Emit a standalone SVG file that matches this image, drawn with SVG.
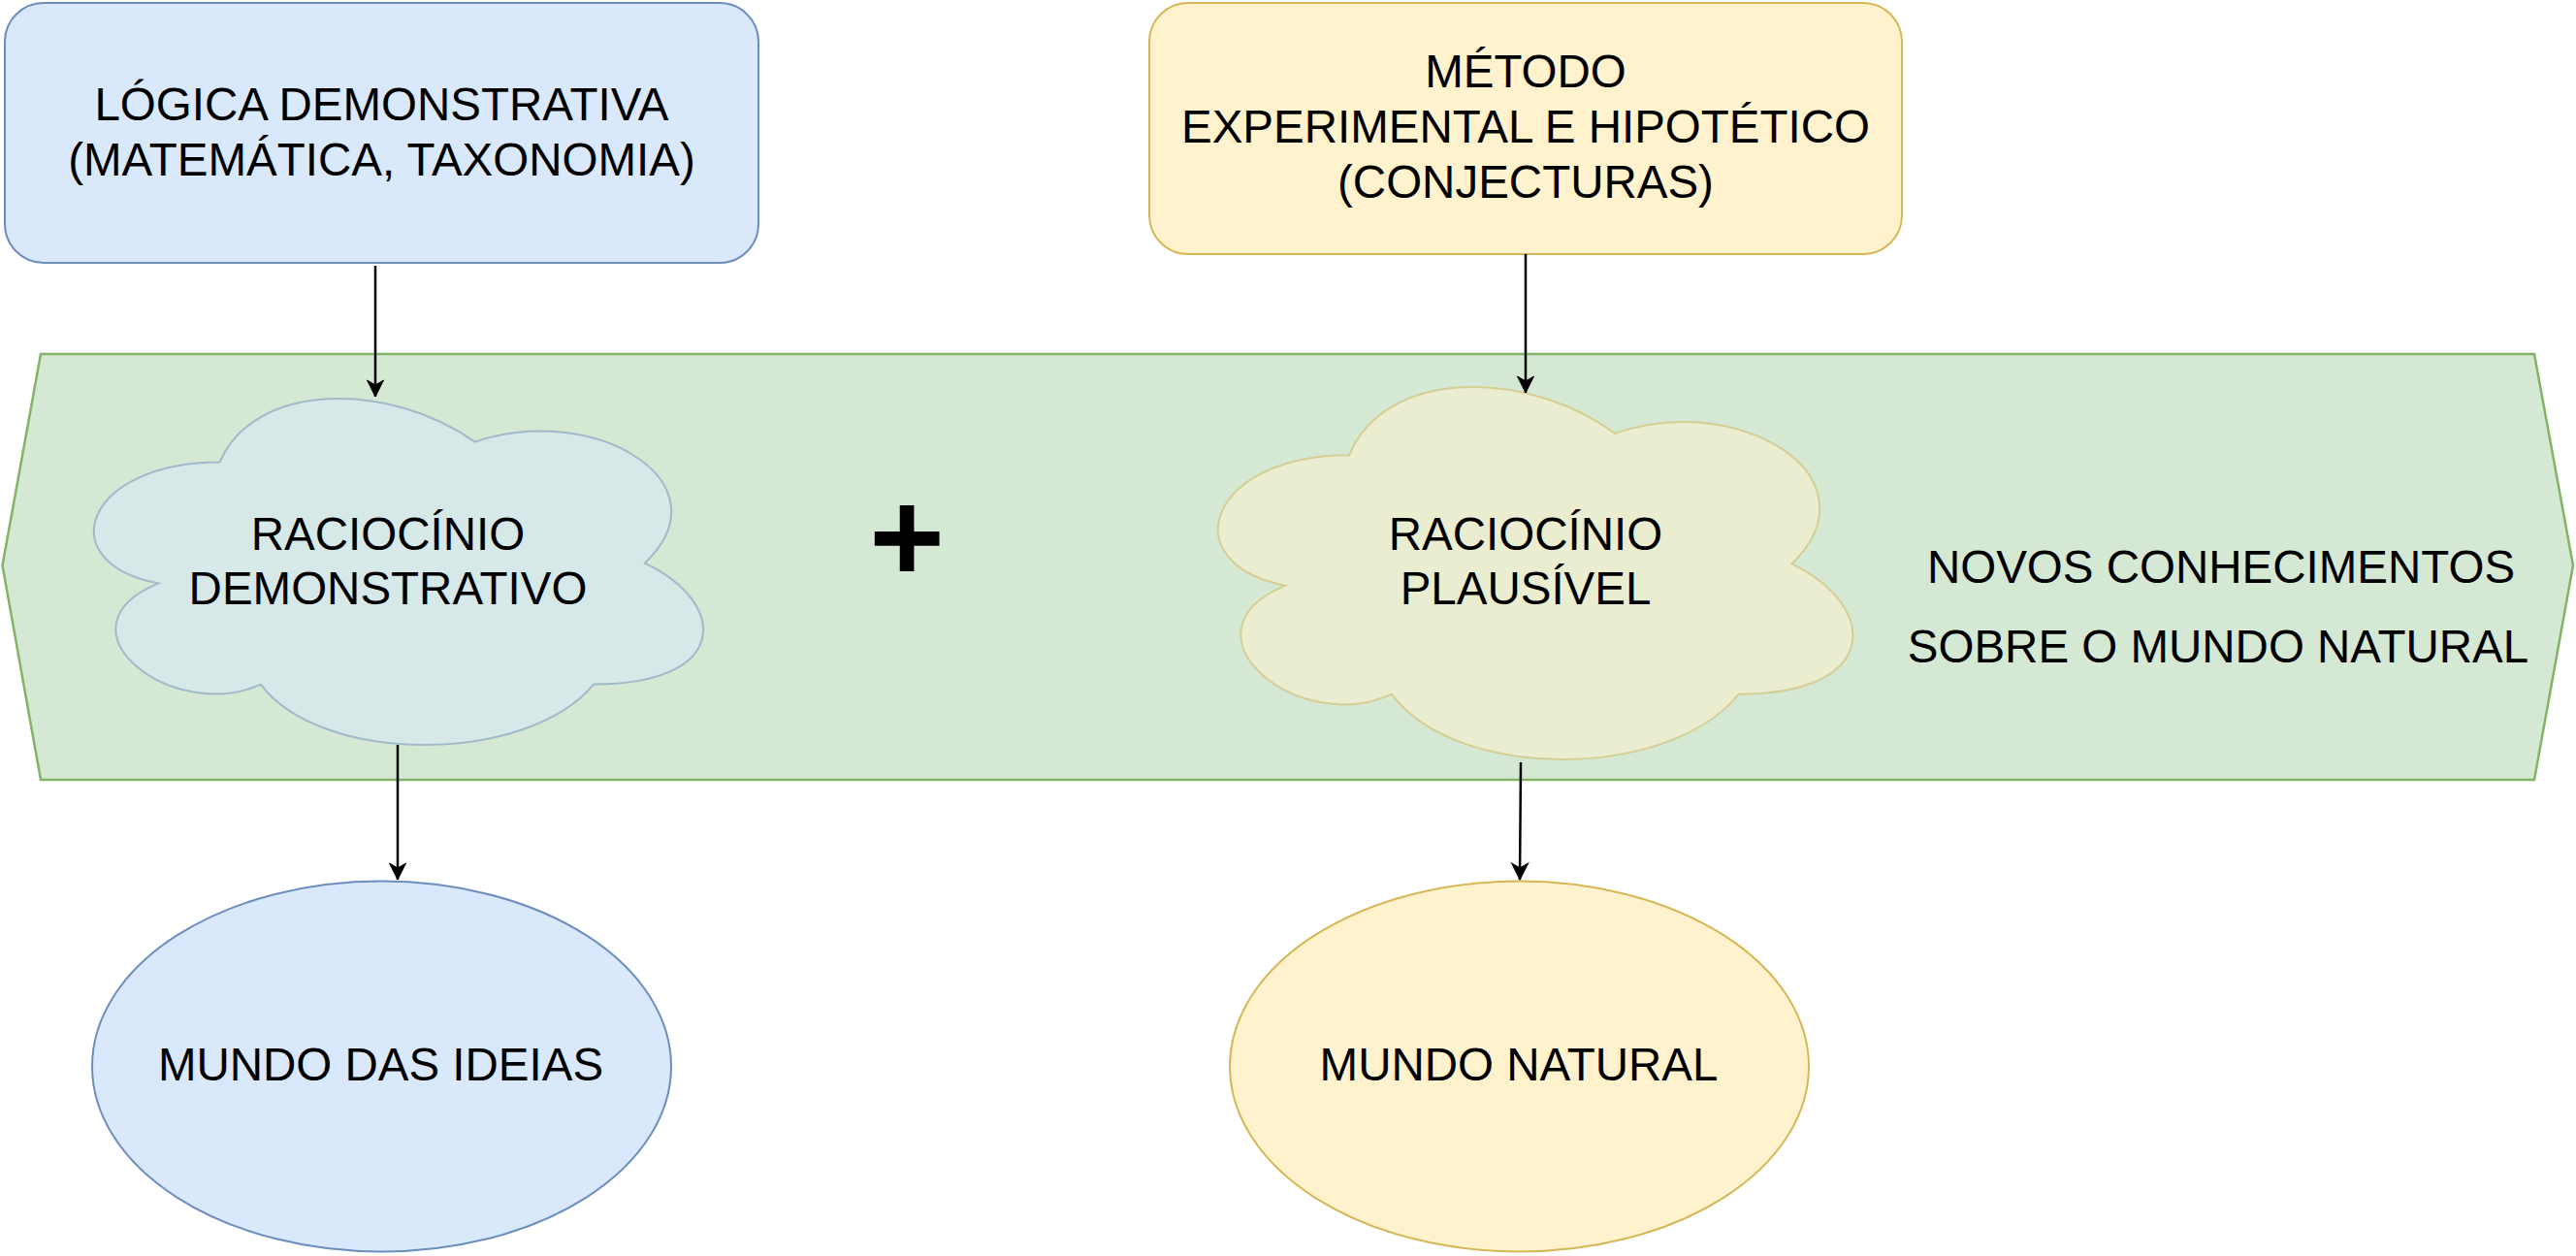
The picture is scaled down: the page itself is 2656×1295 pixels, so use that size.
<svg xmlns="http://www.w3.org/2000/svg" width="2656" height="1295" viewBox="0 0 2656 1295">
<defs>
<style>
text{font-family:"Liberation Sans",Arial,sans-serif;font-size:47.5px;fill:#000;text-anchor:middle}
.blue{fill:#dae8fc;stroke:#6c8ebf;stroke-width:2}
.yellow{fill:#fff2cc;stroke:#d6b656;stroke-width:2}
.green{fill:#d5e8d4;stroke:#82b366;stroke-width:2.5}
.conn{fill:none;stroke:#000;stroke-width:2.5}
.plus{font-weight:bold;font-size:133px}
</style>
<marker id="arr" markerUnits="userSpaceOnUse" markerWidth="40" markerHeight="40" refX="0" refY="0" orient="auto" overflow="visible">
<path d="M0,0 L-17,-8.5 L-12,0 L-17,8.5 Z" fill="#000" stroke="#000" stroke-width="1" stroke-linejoin="miter"/>
</marker>
</defs>
<rect width="2656" height="1295" fill="#fff"/>
<g id="band">
<polygon class="green" points="42,365 2613,365 2653,583 2613,804 42,804 2.5,583"/>
<text x="2290" y="601">NOVOS CONHECIMENTOS</text>
<text x="2287" y="683">SOBRE O MUNDO NATURAL</text>
</g>
<g id="logica">
<rect class="blue" x="5" y="3" width="777" height="268" rx="40" ry="40"/>
<text x="393.5" y="124">LÓGICA DEMONSTRATIVA</text>
<text x="393.5" y="181">(MATEMÁTICA, TAXONOMIA)</text>
</g>
<g id="metodo">
<rect class="yellow" x="1185" y="3" width="776" height="259" rx="40" ry="40"/>
<text x="1573" y="90">MÉTODO</text>
<text x="1573" y="147">EXPERIMENTAL E HIPOTÉTICO</text>
<text x="1573" y="204">(CONJECTURAS)</text>
</g>
<g id="raciocinio-demonstrativo">
<path class="blue" opacity="0.5" d="M226.65,476.45 C86.45,476.45 51.4,580.6 163.56,601.43 C51.4,647.26 177.58,747.24 268.71,705.58 C331.8,788.9 542.1,788.9 612.2,705.58 C752.4,705.58 752.4,622.26 664.78,580.6 C752.4,497.28 612.2,413.96 489.53,455.62 C401.9,393.13 261.7,393.13 226.65,476.45 Z"/>
<text x="400" y="567">RACIOCÍNIO</text>
<text x="400" y="623">DEMONSTRATIVO</text>
</g>
<g id="raciocinio-plausivel">
<path class="yellow" opacity="0.5" d="M1391.1,469.3 C1245.02,469.3 1208.5,581.3 1325.36,603.7 C1208.5,652.98 1339.97,760.5 1434.92,715.7 C1500.66,805.3 1719.78,805.3 1792.82,715.7 C1938.9,715.7 1938.9,626.1 1847.6,581.3 C1938.9,491.7 1792.82,402.1 1665,446.9 C1573.7,379.7 1427.62,379.7 1391.1,469.3 Z"/>
<text x="1573" y="567">RACIOCÍNIO</text>
<text x="1573" y="623">PLAUSÍVEL</text>
</g>
<g id="plus">
<text class="plus" x="935" y="600">+</text>
</g>
<g id="mundo-ideias">
<ellipse class="blue" cx="393.5" cy="1099.5" rx="298.5" ry="191"/>
<text x="392.5" y="1114">MUNDO DAS IDEIAS</text>
</g>
<g id="mundo-natural">
<ellipse class="yellow" cx="1566.5" cy="1099.5" rx="298.5" ry="191"/>
<text x="1566" y="1114">MUNDO NATURAL</text>
</g>
<g id="connectors">
<path class="conn" d="M387,274 L387,409" marker-end="url(#arr)"/>
<path class="conn" d="M1573,262 L1573,405" marker-end="url(#arr)"/>
<path class="conn" d="M410,768 L410,907" marker-end="url(#arr)"/>
<path class="conn" d="M1568,786 L1567,907" marker-end="url(#arr)"/>
</g>
</svg>
